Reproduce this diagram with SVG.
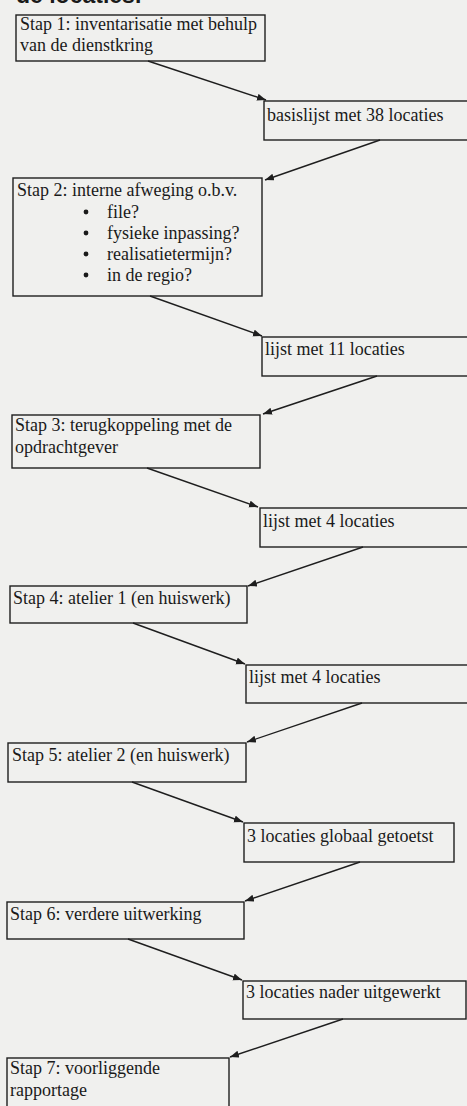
<svg xmlns="http://www.w3.org/2000/svg" width="467" height="1106" viewBox="0 0 467 1106">
<style>
.box{fill:none;stroke:#1e1e1e;stroke-width:1.4}
.t{font-family:"Liberation Serif","Times New Roman",serif;font-size:18px;fill:#1a1a1a}
.conn line{stroke:#1e1e1e;stroke-width:1.4;marker-end:url(#ah)}
.title{font-family:"Liberation Sans",Arial,sans-serif;font-weight:bold;font-size:23px;fill:#1a1a1a}
</style>
<defs>
<marker id="ah" markerUnits="userSpaceOnUse" markerWidth="10" markerHeight="8" refX="9" refY="3.5" orient="auto">
<path d="M0,0 L9,3.5 L0,7 z" fill="#1e1e1e"/>
</marker>
</defs>
<rect width="467" height="1106" fill="#f0f0ee"/>
<text class="title" x="16" y="3">de locaties.</text>

<g id="n1"><rect class="box" x="16" y="15" width="249" height="46"/>
<text class="t" x="20" y="30">Stap 1: inventarisatie met behulp</text>
<text class="t" x="20" y="51">van de dienstkring</text></g>

<g id="n2"><rect class="box" x="264" y="101" width="210" height="39"/>
<text class="t" x="267" y="121">basislijst met 38 locaties</text></g>

<g id="n3"><rect class="box" x="13" y="178" width="249" height="118"/>
<text class="t" x="17" y="196">Stap 2: interne afweging o.b.v.</text>
<g fill="#1a1a1a"><circle cx="86" cy="212" r="2.4"/><circle cx="86" cy="233" r="2.4"/><circle cx="86" cy="254" r="2.4"/><circle cx="86" cy="275" r="2.4"/></g>
<text class="t" x="107" y="218">file?</text>
<text class="t" x="107" y="239">fysieke inpassing?</text>
<text class="t" x="107" y="260">realisatietermijn?</text>
<text class="t" x="107" y="281">in de regio?</text></g>

<g id="n4"><rect class="box" x="262" y="337" width="212" height="39"/>
<text class="t" x="265" y="355">lijst met 11 locaties</text></g>

<g id="n5"><rect class="box" x="12" y="415" width="248" height="53"/>
<text class="t" x="15" y="431">Stap 3: terugkoppeling met de</text>
<text class="t" x="15" y="453">opdrachtgever</text></g>

<g id="n6"><rect class="box" x="260" y="508" width="214" height="39"/>
<text class="t" x="263" y="527">lijst met 4 locaties</text></g>

<g id="n7"><rect class="box" x="10" y="586" width="237" height="37"/>
<text class="t" x="13" y="604">Stap 4: atelier 1 (en huiswerk)</text></g>

<g id="n8"><rect class="box" x="246" y="665" width="228" height="38"/>
<text class="t" x="249" y="683">lijst met 4 locaties</text></g>

<g id="n9"><rect class="box" x="8" y="743" width="238" height="39"/>
<text class="t" x="12" y="761">Stap 5: atelier 2 (en huiswerk)</text></g>

<g id="n10"><rect class="box" x="244" y="823" width="210" height="39"/>
<text class="t" x="247" y="842">3 locaties globaal getoetst</text></g>

<g id="n11"><rect class="box" x="7" y="902" width="237" height="37"/>
<text class="t" x="10" y="920">Stap 6: verdere uitwerking</text></g>

<g id="n12"><rect class="box" x="243" y="981" width="223" height="38"/>
<text class="t" x="246" y="998">3 locaties nader uitgewerkt</text></g>

<g id="n13"><rect class="box" x="7" y="1058" width="222" height="60"/>
<text class="t" x="10" y="1074">Stap 7: voorliggende</text>
<text class="t" x="10" y="1096">rapportage</text></g>

<g id="connectors" class="conn">
<line x1="148" y1="61" x2="266" y2="100"/>
<line x1="380" y1="140" x2="265" y2="180"/>
<line x1="150" y1="296" x2="262" y2="336"/>
<line x1="377" y1="376" x2="263" y2="414"/>
<line x1="147" y1="468" x2="258" y2="507"/>
<line x1="363" y1="547" x2="248" y2="586"/>
<line x1="133" y1="623" x2="245" y2="664"/>
<line x1="362" y1="703" x2="247" y2="742"/>
<line x1="132" y1="782" x2="243" y2="822"/>
<line x1="360" y1="862" x2="245" y2="901"/>
<line x1="128" y1="939" x2="242" y2="980"/>
<line x1="343" y1="1019" x2="230" y2="1057"/>
</g>
</svg>
